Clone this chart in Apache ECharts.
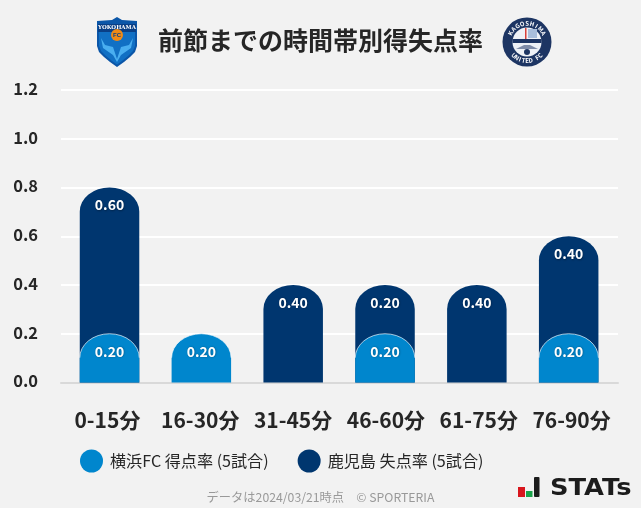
<!DOCTYPE html>
<html>
<head>
<meta charset="utf-8">
<style>html,body{margin:0;padding:0;background:#f2f2f2}#c{width:641px;height:508px}</style>
<script src="https://cdn.jsdelivr.net/npm/echarts@6/dist/echarts.min.js"></script>
</head>
<body>
<div id="c"></div>
<script>
const categories = ['0-15分','16-30分','31-45分','46-60分','61-75分','76-90分'];
const scoredRate = [0.20,0.20,0,0.20,0,0.20];
const concededRate = [0.60,0,0.40,0.20,0.40,0.40];
const scoredName = '横浜FC 得点率 (5試合)';
const concededName = '鹿児島 失点率 (5試合)';
const yTicks = [0,0.2,0.4,0.6,0.8,1.0,1.2];
const chartTitle = '前節までの時間帯別得失点率';
const footnote = 'データは2024/03/21時点　© SPORTERIA';

const FONT = '"Noto Sans CJK JP","Noto Sans",sans-serif';
const LIGHT = '#0086cd', DARK = '#00366f', INK = '#262626';
const chart = echarts.init(document.getElementById('c'), null, {renderer:'canvas'});

function dome(color, baseValues, edge){
  return function(params, api){
    const i = api.value(0), v = api.value(1);
    if(!v) return {type:'group',children:[]};
    const base = baseValues ? baseValues[params.dataIndex] : 0;
    const top = api.coord([i, base + v]);
    const bot = api.coord([i, 0]);
    const w = 59.5, rx = w/2, ry = 24;
    const l = top[0]-rx, r = top[0]+rx, s = top[1]+ry;
    const arc = `M${l} ${s}A${rx} ${ry} 0 0 1 ${r} ${s}`;
    const kids = [
      {type:'path',shape:{pathData:`M${l} ${bot[1]}L${l} ${s}A${rx} ${ry} 0 0 1 ${r} ${s}L${r} ${bot[1]}Z`},style:{fill:color}}
    ];
    if(edge) kids.push({type:'path',shape:{pathData:arc},style:{fill:'none',stroke:'rgba(255,255,255,0.65)',lineWidth:1}});
    kids.push({type:'text',z2:10,style:{text:v.toFixed(2),x:top[0],y:top[1]+17.5,align:'center',verticalAlign:'middle',
      font:'bold 14px '+FONT,fill:'#fff',textShadowColor:'rgba(0,0,0,0.35)',textShadowBlur:2,textShadowOffsetX:0.5,textShadowOffsetY:0.5}});
    return {type:'group',children:kids};
  };
}

const crestChars = 'KAGOSHIMA'.split('');
const unitedChars = 'UNITED FC'.split('');
const cx = 527, cy = 42;
const ring = [];
crestChars.forEach((ch,k)=>{
  const a = (-62 + k*15.5)*Math.PI/180;
  ring.push({type:'text',x:cx+18.7*Math.sin(a),y:cy-18.7*Math.cos(a),rotation:-a,z:20,
    style:{text:ch,align:'center',verticalAlign:'middle',font:'bold 6px '+FONT,fill:'#fff'}});
});
unitedChars.forEach((ch,k)=>{
  const a = (-44 + k*11)*Math.PI/180;
  ring.push({type:'text',x:cx+18.7*Math.sin(a),y:cy+18.7*Math.cos(a),rotation:a,z:20,
    style:{text:ch,align:'center',verticalAlign:'middle',font:'bold 6px '+FONT,fill:'#fff'}});
});

const graphics = [
  // Yokohama crest
  {type:'polygon',z:20,shape:{points:[[97,21],[112,20],[117,17],[122,20],[137,21],[137,46],[135,52],[130,57],[124,62],[117,67],[110,62],[104,57],[99,52],[97,46]]},style:{fill:'#0b56a8'}},
  {type:'polygon',z:20,shape:{points:[[99,31],[135,31],[135,46],[133,51],[128,56],[122,61],[117,64.5],[112,61],[106,56],[101,51],[99,46]]},style:{fill:'#1170c4'}},
  {type:'rect',z:20,shape:{x:98,y:24,width:38,height:8},style:{fill:'#0a3f86'}},
  {type:'text',z:21,style:{text:'YOKOHAMA',x:117,y:28,align:'center',verticalAlign:'middle',font:'bold 5.5px "DejaVu Serif",serif',fill:'#fff'}},
  {type:'polygon',z:21,shape:{points:[[101,38],[105,45],[113,47],[117,59],[121,47],[129,45],[133,38],[131,48],[121,55],[117,62],[113,55],[103,48]]},style:{fill:'#49aef0'}},
  {type:'circle',z:22,shape:{cx:117,cy:35,r:6},style:{fill:'#f08a16'}},
  {type:'text',z:23,style:{text:'FC',x:117,y:35,align:'center',verticalAlign:'middle',font:'bold 6px sans-serif',fill:'#0a3f86'}},
  // Kagoshima crest
  {type:'circle',z:19,shape:{cx,cy,r:24.5},style:{fill:'#1d3563'}},
  {type:'circle',z:19,shape:{cx,cy,r:14.5},style:{fill:'#eef1f6'}},
  {type:'rect',z:19,shape:{x:cx+1,y:cy-13,width:9,height:9},style:{fill:'#a9bedb'}},
  {type:'rect',z:19,shape:{x:cx-14.5,y:cy-3,width:29,height:4},style:{fill:'#1d3563'}},
  {type:'rect',z:19,shape:{x:cx-2,y:cy-14,width:1.5,height:11},style:{fill:'#d8403a'}},
  {type:'polygon',z:19,shape:{points:[[cx-11,cy+7],[cx-3,cy+3],[cx+3,cy+3],[cx+11,cy+7]]},style:{fill:'#7f8ca8'}},
  {type:'circle',z:19,shape:{cx,cy:cy+10,r:3},style:{fill:'#1d3563'}},
  ...ring,
  // STATs logo
  {type:'rect',z:20,shape:{x:518,y:487,width:7,height:10},style:{fill:'#d8161d'}},
  {type:'rect',z:20,shape:{x:526,y:491,width:6.5,height:6},style:{fill:'#1aa34a'}},
  {type:'rect',z:20,shape:{x:534,y:477,width:5.5,height:20,r:1},style:{fill:'#1c1c1c'}},
  {type:'text',z:20,x:550,y:489,scaleX:1.12,style:{text:'STATs',x:0,y:0,align:'left',verticalAlign:'middle',font:'bold 23px "DejaVu Sans",sans-serif',fill:'#1c1c1c'}}
];

chart.setOption({
  animation:false,
  backgroundColor:'#f2f2f2',
  title:[
    {text:chartTitle,left:315.5,top:23,textAlign:'center',textStyle:{fontFamily:FONT,fontWeight:'bold',fontSize:25,color:INK}},
    {text:footnote,left:315.5,top:486,textAlign:'center',textStyle:{fontFamily:FONT,fontWeight:'normal',fontSize:12.25,color:'#999'}}
  ],
  legend:{
    left:75,top:444.5,itemWidth:23,itemHeight:23,itemGap:29,icon:'circle',
    data:[scoredName,concededName],
    textStyle:{fontFamily:FONT,fontSize:16.1,color:INK,padding:[0,0,0,2]}
  },
  grid:[
    {left:61,width:557,top:90,height:292.5},
    {left:63.6,width:551,top:90,height:292.5}
  ],
  xAxis:[
    {gridIndex:0,type:'category',data:categories,
      axisLine:{show:true,onZero:false,lineStyle:{color:'#d9d9d9',width:2}},axisTick:{show:false},
      axisLabel:{margin:27,interval:0,fontFamily:FONT,fontWeight:'bold',fontSize:21,color:INK}},
    {gridIndex:1,type:'category',data:categories,show:false}
  ],
  yAxis:[
    {gridIndex:0,type:'value',min:0,max:1.2,interval:0.2,
      axisLine:{show:false},axisTick:{show:false},
      splitLine:{show:true,lineStyle:{color:'#ffffff',width:2}},
      axisLabel:{margin:23,verticalAlign:'bottom',lineHeight:3,fontFamily:FONT,fontWeight:'bold',fontSize:16.5,color:INK,formatter:v=>yTicks.includes(+v.toFixed(1))?v.toFixed(1):''}},
    {gridIndex:1,type:'value',min:0,max:1.2,interval:0.2,show:false,splitLine:{show:false}}
  ],
  series:[
    {name:concededName,type:'custom',xAxisIndex:1,yAxisIndex:1,z:3,itemStyle:{color:DARK},
      renderItem:dome(DARK,scoredRate,false),
      data:concededRate.map((v,i)=>[i,v])},
    {name:scoredName,type:'custom',xAxisIndex:1,yAxisIndex:1,z:4,itemStyle:{color:LIGHT},
      renderItem:dome(LIGHT,null,true),
      data:scoredRate.map((v,i)=>[i,v])}
  ],
  graphic:graphics
});
</script>
</body>
</html>
